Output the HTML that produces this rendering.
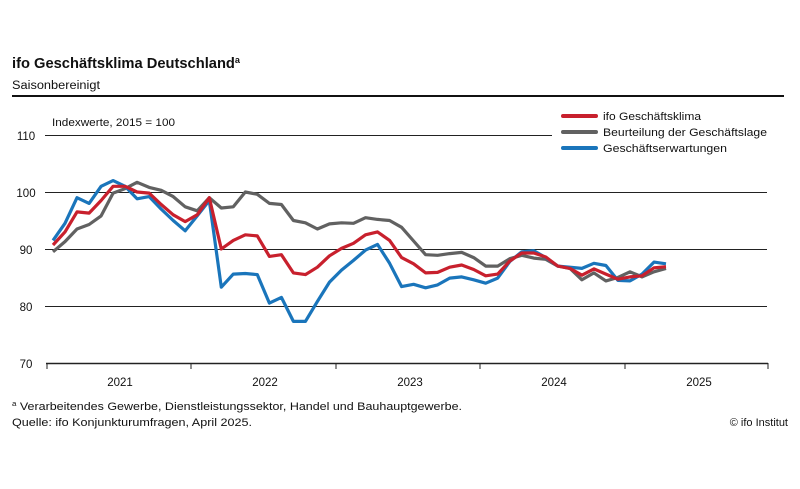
<!DOCTYPE html>
<html><head><meta charset="utf-8"><style>
body{margin:0;background:#fff;}
svg text{font-family:"Liberation Sans",sans-serif;fill:#111;}
</style></head><body>
<svg id="s" width="800" height="484" viewBox="0 0 800 484" xmlns="http://www.w3.org/2000/svg">
<rect width="800" height="484" fill="#fff"/>
<text x="12" y="68" font-size="14.5" font-weight="bold" textLength="228" lengthAdjust="spacingAndGlyphs">ifo Geschäftsklima Deutschland<tspan font-size="9" dy="-5">a</tspan></text>
<text x="12" y="89" font-size="11.5" textLength="88" lengthAdjust="spacingAndGlyphs">Saisonbereinigt</text>
<rect x="12" y="95" width="772" height="2" fill="#111"/>
<text x="52" y="126" font-size="11" textLength="123" lengthAdjust="spacingAndGlyphs">Indexwerte, 2015 = 100</text>
<g stroke="#222" stroke-width="1">
<line x1="45" y1="135.5" x2="552" y2="135.5"/>
<line x1="45" y1="192.5" x2="767" y2="192.5"/>
<line x1="45" y1="249.5" x2="767" y2="249.5"/>
<line x1="45" y1="306.5" x2="767" y2="306.5"/>
<line x1="46" y1="363.5" x2="768" y2="363.5" stroke-width="1.5"/>
<line x1="47" y1="363" x2="47" y2="369"/><line x1="191" y1="363" x2="191" y2="369"/>
<line x1="336" y1="363" x2="336" y2="369"/><line x1="480" y1="363" x2="480" y2="369"/>
<line x1="625" y1="363" x2="625" y2="369"/><line x1="768" y1="363" x2="768" y2="369"/>
</g>
<g font-size="11.5" text-anchor="middle">
<text x="26" y="140">110</text><text x="26" y="197">100</text><text x="26" y="254">90</text><text x="26" y="311">80</text><text x="26" y="368">70</text>
<text x="120" y="386">2021</text><text x="265" y="386">2022</text><text x="410" y="386">2023</text><text x="554" y="386">2024</text><text x="699" y="386">2025</text>
</g>
<g stroke-width="4" stroke-linecap="round">
<line x1="563" y1="116" x2="596" y2="116" stroke="#c8202d"/>
<line x1="563" y1="132" x2="596" y2="132" stroke="#616161"/>
<line x1="563" y1="148" x2="596" y2="148" stroke="#1a75bb"/>
</g>
<g font-size="11">
<text x="603" y="120" textLength="98" lengthAdjust="spacingAndGlyphs">ifo Geschäftsklima</text>
<text x="603" y="136" textLength="164" lengthAdjust="spacingAndGlyphs">Beurteilung der Geschäftslage</text>
<text x="603" y="152" textLength="124" lengthAdjust="spacingAndGlyphs">Geschäftserwartungen</text>
</g>
<g font-size="11">
<text x="12" y="410" textLength="450" lengthAdjust="spacingAndGlyphs"><tspan font-size="7" dy="-4">a</tspan><tspan dy="4"> Verarbeitendes Gewerbe, Dienstleistungssektor, Handel und Bauhauptgewerbe.</tspan></text>
<text x="12" y="426" textLength="240" lengthAdjust="spacingAndGlyphs">Quelle: ifo Konjunkturumfragen, April 2025.</text>
<text x="788" y="426" text-anchor="end">© ifo Institut</text>
</g>
<g id="lines" fill="none" stroke-width="3.2" stroke-linejoin="round"></g>
</svg>
<script>
var gray=[89.5,91.3,93.5,94.3,95.8,99.8,100.6,101.7,100.8,100.3,99.2,97.4,
96.7,99,97.2,97.4,100,99.6,98,97.8,95,94.6,93.5,94.4,
94.6,94.5,95.5,95.2,95,93.8,91.4,89,88.9,89.2,89.4,88.5,
87,87,88.3,88.9,88.4,88.2,87,86.6,84.6,85.8,84.4,85,
86,85.1,86,86.6];
var red=[90.7,93,96.5,96.3,98.5,101,101,100,99.8,97.8,96,94.8,
96,99,90,91.5,92.5,92.3,88.7,89,85.8,85.5,86.8,88.8,
90.1,91,92.5,93,91.5,88.5,87.4,85.8,85.9,86.8,87.2,86.4,
85.3,85.6,87.9,89.3,89.3,88.6,87,86.6,85.4,86.5,85.6,84.7,
85.1,85.3,86.7,86.9];
var blue=[91.5,94.5,99,98,101,102,101,98.8,99.2,97,95,93.2,
95.8,98.5,83.3,85.6,85.7,85.5,80.5,81.5,77.3,77.3,80.8,84.2,
86.3,88,89.8,90.8,87.5,83.4,83.8,83.2,83.7,84.9,85.1,84.6,
84,84.9,87.8,89.5,89.7,88.5,87,86.8,86.6,87.5,87.1,84.5,
84.4,85.6,87.7,87.4];
function pts(a){return a.map(function(v,i){return (53+i*12.02).toFixed(1)+","+(363-(v-70)*5.7).toFixed(1)}).join(" ");}
var g=document.getElementById("lines"),ns="http://www.w3.org/2000/svg";
[[gray,"#616161"],[blue,"#1a75bb"],[red,"#c8202d"]].forEach(function(s){var p=document.createElementNS(ns,"polyline");p.setAttribute("points",pts(s[0]));p.setAttribute("stroke",s[1]);g.appendChild(p);});
</script>
</body></html>
